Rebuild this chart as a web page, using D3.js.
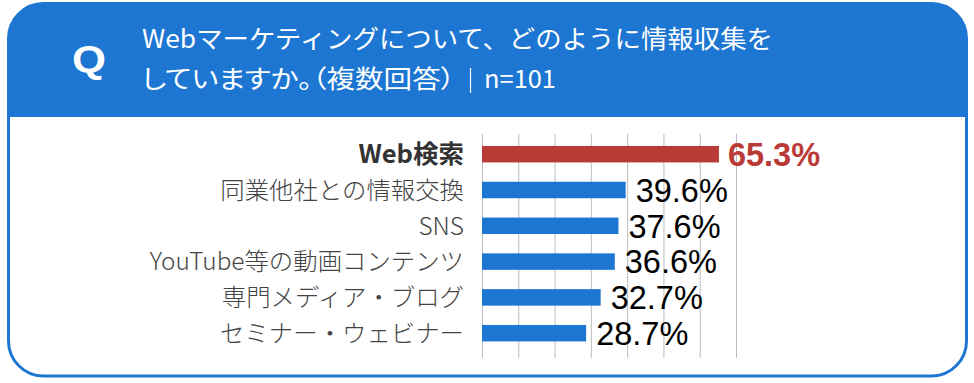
<!DOCTYPE html>
<html>
<head>
<meta charset="utf-8">
<script src="https://cdn.jsdelivr.net/npm/d3@7"></script>
<style>
  body { margin: 0; background: #fff; }
  svg { display: block; }
  .palt { font-feature-settings: "palt" 1; }
</style>
</head>
<body>
<div id="container"></div>
<script>
/* DATA */
const categories = ["Web検索", "同業他社との情報交換", "SNS", "YouTube等の動画コンテンツ", "専門メディア・ブログ", "セミナー・ウェビナー"];
const values = [65.3, 39.6, 37.6, 36.6, 32.7, 28.7];
const gridTicks = [0, 10, 20, 30, 40, 50, 60, 70];
const titleLine1 = "Webマーケティングについて、どのように情報収集を";
const titleLine2 = "していますか。（複数回答）";
const sampleSize = "n=101";

/* CONSTANTS */
const width = 974, height = 383;
const blue = "#1c76d2", red = "#ba3a37";
const box = { x: 8.5, y: 3.5, w: 958, h: 372.5, r: 35 };
const headerBottom = 117;

const data = categories.map((c, i) => ({ cat: c, val: values[i], top: i === 0 }));

const svg = d3.select("#container")
  .append("svg")
  .attr("width", width)
  .attr("height", height);

// clip for the rounded box
svg.append("clipPath").attr("id", "boxclip")
  .append("rect")
  .attr("x", box.x).attr("y", box.y)
  .attr("width", box.w).attr("height", box.h)
  .attr("rx", box.r);

svg.append("rect")
  .attr("x", box.x).attr("y", box.y)
  .attr("width", box.w).attr("height", box.h)
  .attr("rx", box.r)
  .attr("fill", "#fff");

// header band
svg.append("rect")
  .attr("clip-path", "url(#boxclip)")
  .attr("x", 0).attr("y", 0)
  .attr("width", width).attr("height", headerBottom)
  .attr("fill", blue);

svg.append("rect")
  .attr("x", box.x).attr("y", box.y)
  .attr("width", box.w).attr("height", box.h)
  .attr("rx", box.r)
  .attr("fill", "none")
  .attr("stroke", blue)
  .attr("stroke-width", 3);

// Q mark
svg.append("text")
  .attr("x", 72).attr("y", 72)
  .attr("textLength", 34)
  .attr("lengthAdjust", "spacingAndGlyphs")
  .attr("fill", "#fff")
  .attr("font-family", "'Liberation Sans', Arial, sans-serif")
  .attr("font-weight", "bold")
  .attr("font-size", 37)
  .text("Q");

// title
const titleFont = "'Noto Sans CJK JP', sans-serif";
svg.append("text")
  .attr("x", 142).attr("y", 48)
  .attr("textLength", 631)
  .attr("lengthAdjust", "spacingAndGlyphs")
  .attr("fill", "#fff")
  .attr("font-family", titleFont)
  .attr("font-size", 25)
  .text(titleLine1);

svg.append("text")
  .attr("class", "palt")
  .attr("x", 142).attr("y", 88)
  .attr("textLength", 313)
  .attr("lengthAdjust", "spacingAndGlyphs")
  .attr("fill", "#fff")
  .attr("font-family", titleFont)
  .attr("font-size", 25)
  .text(titleLine2);

svg.append("line")
  .attr("x1", 470.5).attr("x2", 470.5)
  .attr("y1", 68).attr("y2", 93)
  .attr("stroke", "#fff")
  .attr("stroke-width", 1.2);

svg.append("text")
  .attr("x", 484).attr("y", 88)
  .attr("textLength", 72)
  .attr("lengthAdjust", "spacingAndGlyphs")
  .attr("fill", "#fff")
  .attr("font-family", titleFont)
  .attr("font-size", 25)
  .text(sampleSize);

/* SCALES */
const xScale = d3.scaleLinear()
  .domain([0, 70])
  .range([482, 736]);

const yScale = d3.scaleBand()
  .domain(categories)
  .range([136.3, 351.1])
  .paddingInner(0.54)
  .paddingOuter(0.27);

/* GRIDLINES */
const gridTop = 134, gridBottom = 358;
const grid = svg.append("g")
  .attr("transform", `translate(0,${gridBottom})`)
  .call(d3.axisBottom(xScale)
    .tickValues(gridTicks)
    .tickSize(-(gridBottom - gridTop))
    .tickFormat(""));
grid.select(".domain").remove();
grid.selectAll(".tick line")
  .attr("stroke", "#bdbdbd")
  .attr("stroke-width", 1);

/* CATEGORY AXIS */
const yAxis = svg.append("g")
  .attr("transform", `translate(${xScale(0)},0)`)
  .call(d3.axisLeft(yScale).tickSize(0).tickPadding(18));
yAxis.select(".domain").remove();
yAxis.selectAll(".tick text")
  .attr("font-family", "'Noto Sans CJK JP', sans-serif")
  .attr("font-size", d => d === categories[0] ? 25.5 : 24.4)
  .attr("font-weight", d => d === categories[0] ? "bold" : 300)
  .attr("fill", d => d === categories[0] ? "#333" : "#444")
  .attr("dy", "0.36em");

/* BARS */
svg.selectAll(".bar")
  .data(data)
  .join("rect")
  .attr("class", "bar")
  .attr("x", xScale(0))
  .attr("y", d => yScale(d.cat))
  .attr("width", d => xScale(d.val) - xScale(0))
  .attr("height", yScale.bandwidth())
  .attr("fill", d => d.top ? red : blue);

/* VALUE LABELS */
svg.selectAll(".val")
  .data(data)
  .join("text")
  .attr("class", "val")
  .attr("x", d => xScale(d.val) + (d.top ? 9 : 10))
  .attr("y", d => yScale(d.cat) + yScale.bandwidth() / 2)
  .attr("dy", "0.36em")
  .attr("font-family", "'Liberation Sans', Arial, sans-serif")
  .attr("font-size", 32.5)
  .attr("font-weight", d => d.top ? "bold" : "normal")
  .attr("fill", d => d.top ? red : "#000")
  .text(d => d.val.toFixed(1) + "%");
</script>
</body>
</html>
